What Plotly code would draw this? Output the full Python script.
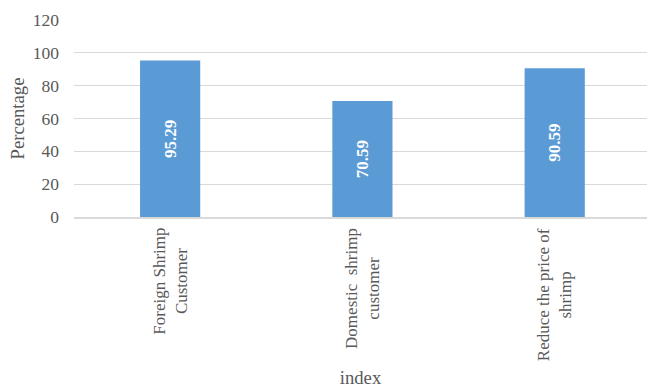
import plotly.graph_objects as go

categories = ["Foreign Shrimp<br>Customer", "Domestic  shrimp<br>customer", "Reduce the price of<br>shrimp"]
values = [95.29, 70.59, 90.59]
value_labels = ["95.29", "70.59", "90.59"]
y_ticks = [0, 20, 40, 60, 80, 100, 120]

FONT = "Liberation Serif"
GRAY = "#595959"

fig = go.Figure()
fig.add_trace(go.Bar(
    x=[0, 1, 2],
    y=values,
    text=value_labels,
    textposition="inside",
    insidetextanchor="middle",
    textangle=-90,
    textfont=dict(family=FONT, size=17, color="white", weight="bold"),
    marker=dict(color="#5B9BD5", line=dict(width=0)),
    width=0.313,
    hoverinfo="skip",
))

for i, c in enumerate(categories):
    fig.add_annotation(
        x=i, xref="x", y=0, yref="paper",
        text=c, textangle=-90, showarrow=False,
        xanchor="center", yanchor="top", align="center",
        yshift=-9,
        font=dict(family=FONT, size=17, color=GRAY),
    )

fig.update_layout(
    width=647, height=388,
    margin=dict(l=74, r=0, t=20, b=171),
    paper_bgcolor="white", plot_bgcolor="white",
    showlegend=False,
    font=dict(family=FONT, color=GRAY, size=17),
    xaxis=dict(
        range=[-0.5, 2.48],
        showticklabels=False,
        showgrid=False,
        zeroline=False,
        showline=True, linecolor="#D9D9D9", linewidth=1.5,
        ticks="",
        title=dict(text="index", font=dict(family=FONT, size=18.7, color=GRAY), standoff=153),
    ),
    yaxis=dict(
        range=[0, 120],
        tickvals=y_ticks,
        ticktext=[str(v) for v in y_ticks],
        tickfont=dict(family=FONT, size=17.5, color=GRAY),
        showgrid=True, gridcolor="#D9D9D9", gridwidth=1,
        zeroline=False,
        showline=False,
        ticks="",
        ticklabelstandoff=14,
        title=dict(text="Percentage", font=dict(family=FONT, size=18.7, color=GRAY), standoff=3),
    ),
)

fig.write_html("out.html")
